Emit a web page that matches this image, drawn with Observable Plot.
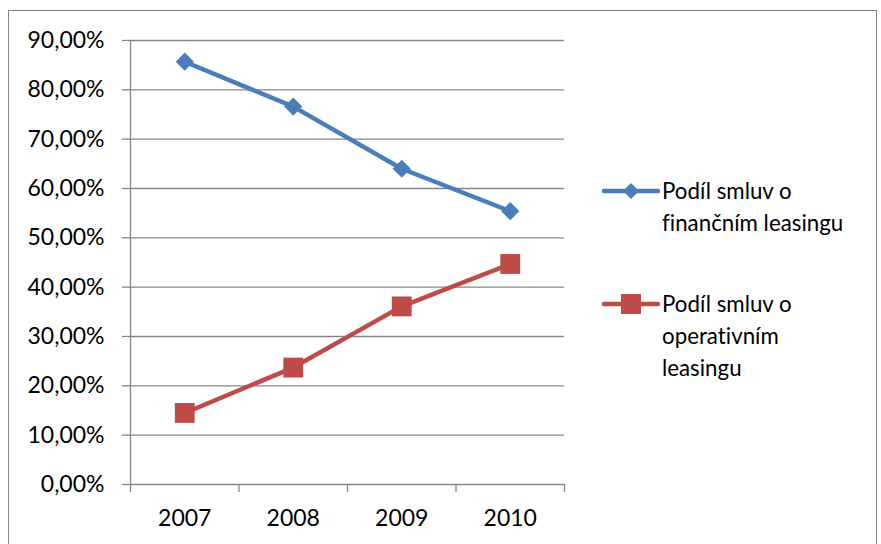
<!DOCTYPE html>
<html>
<head>
<meta charset="utf-8">
<script src="https://cdn.jsdelivr.net/npm/d3@7"></script>
<script src="https://cdn.jsdelivr.net/npm/@observablehq/plot@0.6"></script>
<style>
  html, body { margin: 0; padding: 0; background: #fff; }
  #wrap { position: relative; width: 881px; height: 544px; overflow: hidden; font-family: Lato, "Open Sans", sans-serif; font-variant-ligatures: none; }
  #frame { position: absolute; left: 8px; top: 10px; width: 869px; height: 560px; border: 1px solid #888; box-sizing: border-box; }
  #chart { position: absolute; left: 0; top: 0; }
  #legend { position: absolute; left: 602px; top: 175px; font-size: 22.3px; line-height: 32px; color: #000; }
  .item { display: flex; align-items: flex-start; margin-bottom: 49px; }
  .item svg { flex: none; margin-top: 2px; margin-right: 2px; }
</style>
</head>
<body>
<div id="wrap">
  <div id="frame"></div>
  <div id="chart"></div>
  <div id="legend"></div>
</div>
<script>
const years = [2007, 2008, 2009, 2010];
const financni = [0.857, 0.766, 0.640, 0.554];
const operativni = [0.145, 0.237, 0.361, 0.447];
const seriesNames = ["Podíl smluv o finančním leasingu", "Podíl smluv o operativním leasingu"];
const legendLines = [["Podíl smluv o", "finančním leasingu"], ["Podíl smluv o", "operativním", "leasingu"]];
const colors = ["#4A7EBB", "#BE4B48"];
const yTicks = [0, 0.1, 0.2, 0.3, 0.4, 0.5, 0.6, 0.7, 0.8, 0.9];

const boundaries = years.map(d => d - 0.5).concat([years[years.length - 1] + 0.5]);
const data = [
  ...years.map((y, i) => ({year: y, value: financni[i], series: seriesNames[0]})),
  ...years.map((y, i) => ({year: y, value: operativni[i], series: seriesNames[1]}))
];
const fmt = v => (v * 100).toFixed(2).replace(".", ",") + "%";
const gridColor = "#868686";

const plot = Plot.plot({
  width: 881,
  height: 544,
  marginLeft: 130,
  marginRight: 317,
  marginTop: 40,
  marginBottom: 60,
  style: {fontFamily: "Lato, 'Open Sans', sans-serif", fontSize: "23px", color: "#000", background: "transparent", fontVariantLigatures: "none"},
  x: {type: "linear", domain: [boundaries[0], boundaries[boundaries.length - 1]]},
  y: {domain: [0, 0.9]},
  color: {domain: seriesNames, range: colors},
  marks: [
    Plot.ruleY(yTicks, {stroke: gridColor, strokeWidth: 1.3, strokeOpacity: 1}),
    Plot.ruleX([boundaries[0]], {y1: 0, y2: 0.9, stroke: gridColor, strokeWidth: 1.3}),
    Plot.axisY({ticks: yTicks, tickFormat: fmt, tickSize: 8, tickPadding: 18, stroke: gridColor, strokeWidth: 1.3, strokeOpacity: 1, fill: "#000", fontSize: 23, label: null}),
    Plot.axisX({ticks: boundaries, tickFormat: () => "", tickSize: 8, stroke: gridColor, strokeWidth: 1.3, strokeOpacity: 1, label: null}),
    Plot.axisX({ticks: years, tickFormat: d => String(d), tickSize: 0, tickPadding: 25, fill: "#000", fontSize: 23, label: null}),
    Plot.line(data, {x: "year", y: "value", z: "series", stroke: "series", strokeWidth: 4.5, strokeLinejoin: "round"}),
    Plot.dot(data.filter(d => d.series === seriesNames[0]), {x: "year", y: "value", symbol: "diamond2", r: 8.2, fill: colors[0], stroke: null}),
    Plot.dot(data.filter(d => d.series === seriesNames[1]), {x: "year", y: "value", symbol: "square", r: 11.2, fill: colors[1], stroke: null})
  ]
});
document.getElementById("chart").appendChild(plot);

// legend
const legend = document.getElementById("legend");
legendLines.forEach((lines, i) => {
  const item = document.createElement("div");
  item.className = "item";
  const sw = d3.create("svg").attr("width", 58).attr("height", 28);
  sw.append("line").attr("x1", 2).attr("x2", 56).attr("y1", 14).attr("y2", 14)
    .attr("stroke", colors[i]).attr("stroke-width", 4.5).attr("stroke-linecap", "round");
  if (i === 0) {
    sw.append("path").attr("d", "M29,6 L37,14 L29,22 L21,14 Z").attr("fill", colors[i]);
  } else {
    sw.append("rect").attr("x", 19).attr("y", 4).attr("width", 20).attr("height", 20).attr("fill", colors[i]);
  }
  item.appendChild(sw.node());
  const t = document.createElement("div");
  t.innerHTML = lines.join("<br>");
  item.appendChild(t);
  legend.appendChild(item);
});
</script>
</body>
</html>
